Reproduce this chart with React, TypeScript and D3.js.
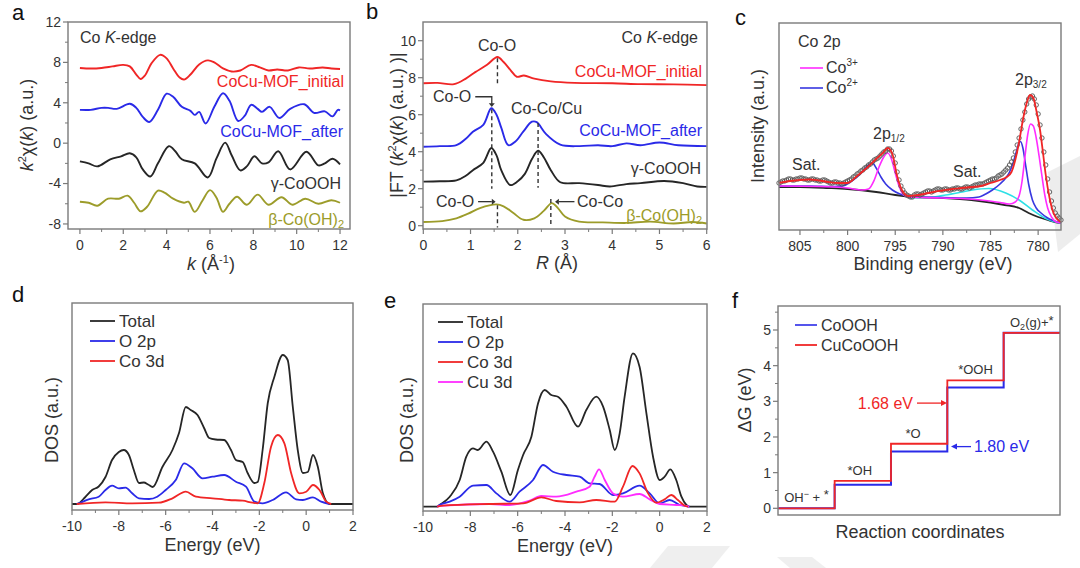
import React from 'react';
import * as d3 from 'd3';

type P = [number, number];

const FONT = "'Liberation Sans', Arial, Helvetica, sans-serif";
const TXT = '#333';
const FRAME = '#7a7a7a';
const RED = '#f02626';
const BLUE = '#2a2ae8';
const OLIVE = '#9c9c2a';
const BLK = '#262626';
const MAG = '#ff2cff';
const CYAN = '#2ee0e6';

// ---------------- panel a : k-space EXAFS ----------------
const aTicksX = [0, 2, 4, 6, 8, 10, 12];
const aTicksY = [-8, -4, 0, 4, 8, 12];
const aInitial: P[] = [[0,7.45],[0.5,7.4],[1,7.45],[1.5,7.6],[2,7.75],[2.3,7.6],[2.6,6.8],[2.8,6.35],[3.0,6.7],[3.3,7.9],[3.7,8.75],[4.0,8.4],[4.3,7.4],[4.6,6.5],[4.8,6.3],[5.1,6.8],[5.5,7.8],[5.9,8.2],[6.2,8.0],[6.6,7.4],[7.0,7.1],[7.4,7.2],[7.9,7.75],[8.3,7.5],[8.7,7.2],[9.1,7.3],[9.6,7.2],[10.1,7.5],[10.6,7.4],[11.2,7.5],[11.6,7.4],[12,7.35]];
const aAfter: P[] = [[0,3.3],[0.5,3.3],[1,3.5],[1.3,3.5],[1.7,3.4],[2.3,3.9],[2.6,3.5],[2.9,2.6],[3.2,2.1],[3.6,3.3],[4.0,4.9],[4.3,4.6],[4.7,3.6],[5.1,3.2],[5.3,2.8],[5.5,3.1],[5.8,1.95],[6.2,3.6],[6.6,4.95],[6.9,4.2],[7.3,2.2],[7.6,2.7],[7.9,3.8],[8.2,3.4],[8.4,3.1],[8.75,3.6],[9.2,2.5],[9.7,3.4],[10.35,3.85],[10.8,3.0],[11.3,3.15],[11.65,2.65],[11.9,3.3],[12,3.25]];
const aGamma: P[] = [[0,-1.8],[0.4,-2.0],[0.8,-2.3],[1.4,-1.6],[1.9,-1.3],[2.3,-1.0],[2.6,-1.4],[2.9,-2.6],[3.25,-3.3],[3.6,-2.0],[4.1,-0.3],[4.4,-0.8],[4.7,-1.6],[5.3,-2.0],[5.9,-3.4],[6.3,-1.5],[6.7,0.05],[7.0,-1.2],[7.4,-2.7],[7.7,-2.3],[8.05,-1.3],[8.4,-2.0],[8.7,-1.9],[9.15,-0.8],[9.7,-2.6],[10.45,-0.85],[11.0,-2.2],[11.3,-2.0],[11.65,-1.55],[12,-2.1]];
const aBeta: P[] = [[0,-5.8],[0.4,-5.9],[0.8,-6.2],[1.3,-5.5],[1.8,-5.5],[2.2,-5.2],[2.5,-5.9],[2.8,-6.75],[3.1,-6.3],[3.6,-4.7],[3.9,-4.9],[4.3,-5.5],[4.8,-5.9],[5.0,-5.8],[5.3,-6.8],[5.65,-5.7],[6.0,-4.65],[6.3,-5.4],[6.6,-6.8],[6.9,-6.0],[7.25,-5.3],[7.7,-6.1],[8.2,-5.1],[8.7,-6.1],[9.3,-5.35],[9.8,-6.1],[10.4,-5.5],[11.0,-6.0],[11.6,-5.65],[12,-5.9]];

// ---------------- panel b : R-space ----------------
const bTicksX = [0, 1, 2, 3, 4, 5, 6];
const bTicksY = [0, 2, 4, 6, 8, 10];
const bInitial: P[] = [[0,7.7],[0.3,7.72],[0.65,7.65],[0.9,7.95],[1.1,8.3],[1.35,8.7],[1.57,9.12],[1.7,8.85],[1.85,8.4],[1.98,8.05],[2.13,8.12],[2.35,7.95],[2.7,7.8],[3.2,7.72],[4,7.7],[4.6,7.65],[5.3,7.64],[6,7.6]];
const bAfter: P[] = [[0,4.27],[0.35,4.3],[0.7,4.35],[0.9,4.7],[1.05,5.08],[1.27,5.45],[1.44,6.35],[1.55,6.0],[1.65,5.3],[1.8,4.35],[1.95,4.55],[2.12,5.1],[2.3,5.62],[2.4,5.6],[2.6,4.95],[2.9,4.38],[3.3,4.3],[3.7,4.35],[4.0,4.3],[4.3,4.45],[4.6,4.35],[5.0,4.5],[5.4,4.35],[6,4.3]];
const bGamma: P[] = [[0,2.38],[0.35,2.4],[0.7,2.45],[0.9,2.7],[1.05,3.0],[1.27,3.4],[1.44,4.2],[1.55,3.8],[1.65,3.0],[1.84,2.2],[2.0,2.4],[2.15,2.8],[2.3,3.6],[2.43,4.05],[2.55,3.7],[2.7,3.0],[2.9,2.35],[3.3,2.3],[3.7,2.2],[3.95,2.12],[4.3,2.25],[4.6,2.3],[5.1,2.42],[5.5,2.3],[5.8,2.12],[6,2.1]];
const bBeta: P[] = [[0,0.2],[0.4,0.25],[0.7,0.4],[0.95,0.65],[1.2,0.95],[1.55,1.15],[1.7,1.05],[1.9,0.7],[2.12,0.32],[2.35,0.4],[2.55,0.8],[2.72,1.22],[2.85,0.95],[3.0,0.5],[3.3,0.22],[3.8,0.18],[4.3,0.15],[4.8,0.22],[5.3,0.12],[5.7,0.2],[6,0.12]];
const bDashes: [number, number, number][] = [[1.57,9.05,7.65],[1.45,6.3,2.0],[2.43,5.55,2.05],[1.57,1.1,-0.1],[2.70,1.45,-0.05]];

// ---------------- panel c : XPS Co 2p ----------------
const cTicksX = [805, 800, 795, 790, 785, 780];
const cMinorX = [802.5, 797.5, 792.5, 787.5, 782.5];
const cData: P[] = [[807.2,47],[807.0,48],[806.8,49],[806.6,49],[806.4,50],[806.2,51],[806.0,51],[805.8,50],[805.6,50],[805.4,51],[805.2,51],[805.0,52],[804.8,52],[804.6,51],[804.4,51],[804.2,50],[804.0,50],[803.8,51],[803.6,51],[803.4,50],[803.2,50],[803.0,49],[802.8,49],[802.6,50],[802.4,50],[802.2,49],[802.0,48],[801.8,47],[801.6,47],[801.4,48],[801.2,48],[801.0,47],[800.8,47],[800.6,46],[800.4,47],[800.2,48],[800.0,49],[799.8,50],[799.6,51],[799.4,53],[799.2,54],[799.0,56],[798.8,57],[798.6,59],[798.4,60],[798.2,62],[798.0,63],[797.8,65],[797.6,66],[797.4,68],[797.2,70],[797.0,71],[796.8,72],[796.6,74],[796.4,76],[796.2,78],[796.0,79],[795.8,81],[795.6,81],[795.4,79],[795.2,74],[795.0,67],[794.8,58],[794.6,50],[794.4,44],[794.2,40],[794.0,37],[793.8,35],[793.6,34],[793.4,33],[793.2,33],[793.0,35],[792.8,36],[792.6,36],[792.4,35],[792.2,36],[792.0,37],[791.8,38],[791.6,39],[791.4,39],[791.2,38],[791.0,39],[790.8,40],[790.6,41],[790.4,41],[790.2,40],[790.0,40],[789.8,41],[789.6,41],[789.4,40],[789.2,40],[789.0,41],[788.8,41],[788.6,42],[788.4,42],[788.2,41],[788.0,41],[787.8,42],[787.6,43],[787.4,43],[787.2,42],[787.0,43],[786.8,44],[786.6,45],[786.4,45],[786.2,46],[786.0,46],[785.8,46],[785.6,47],[785.4,48],[785.2,49],[785.0,50],[784.8,51],[784.6,51],[784.4,52],[784.2,54],[784.0,55],[783.8,56],[783.6,58],[783.4,60],[783.2,62],[783.0,65],[782.8,68],[782.6,72],[782.4,78],[782.2,85],[782.0,92],[781.8,101],[781.6,110],[781.4,118],[781.2,126],[781.0,131],[780.8,133],[780.6,134],[780.4,131],[780.2,125],[780.0,116],[779.8,105],[779.6,92],[779.4,78],[779.2,65],[779.0,51],[778.8,38],[778.6,29],[778.4,22],[778.2,17],[778.0,14],[777.8,12],[777.6,10]];
const cEnvelope: P[] = [[807.2,47],[806,49],[805,50],[804,50.5],[803,49.5],[802,48],[801,47],[800,47],[799,54],[798,62],[797,71],[796.3,77],[795.8,82],[795.3,76],[794.8,54],[794.3,40],[793.6,34],[793,34.5],[792,36],[791,38],[790,39.5],[789,41],[788,42],[787,43],[786,44],[785,47],[784,50],[783.3,53],[782.8,58],[782.4,70],[782,88],[781.6,110],[781.2,127],[780.85,135],[780.5,132],[780.2,120],[779.8,100],[779.5,78],[779.2,55],[778.8,32],[778.5,20],[778.1,12],[777.6,8]];
const cBackground: P[] = [[807.2,43],[805,43],[802,42],[800,41],[797,38],[795,35],[793,33],[790,32],[787,30],[785,27.5],[783.5,25],[782,22],[781,17],[780,13],[779,10],[778,7.5],[777.6,7]];
const cCo3: P[] = [[807.2,44],[803,43.5],[800,42],[798.5,40],[797.8,41],[797.2,50],[796.7,63],[796.2,73],[795.8,77],[795.4,71],[795.0,57],[794.6,44],[794.1,35],[793.5,33],[790,32],[786,30],[784,27.5],[783,26],[782.4,28],[782.0,34],[781.7,48],[781.4,72],[781.1,95],[780.8,106],[780.5,104],[780.2,92],[779.9,74],[779.6,54],[779.3,35],[779.0,22],[778.6,13],[778.1,8],[777.6,7]];
const cCo2: P[] = [[807.2,44],[804,44],[801.5,43.5],[800.5,44],[799.7,48],[799,53],[798.3,60],[797.8,65],[797.4,67],[797.0,62],[796.5,53],[796,46],[795.3,40],[794.5,36],[793.8,34],[793,33],[790,32.5],[787.5,32],[786.2,33],[785.5,36],[784.8,40],[784,46],[783.4,52],[783,58],[782.6,68],[782.3,78],[782,87],[781.85,88.5],[781.6,82],[781.3,64],[781,46],[780.6,30],[780.2,22],[779.7,17],[779,12],[778.3,9],[777.6,7]];
const cSat: P[] = [[793.5,32],[791,33],[789.7,35],[788,38],[786.9,40],[785.2,41.5],[783.4,37],[782,30],[780.6,20],[779.2,11.5],[777.8,7.3],[777.6,7]];

// ---------------- panel d : DOS CoOOH ----------------
const dosTicks = [-10, -8, -6, -4, -2, 0, 2];
const dosMinor = [-9, -7, -5, -3, -1, 1];
const dTotal: P[] = [[-10,0],[-9.79,0],[-9.43,7],[-9.14,14],[-8.86,17.5],[-8.57,27],[-8.29,44],[-8.0,52],[-7.79,54],[-7.57,49],[-7.36,34],[-7.14,21],[-6.93,21.5],[-6.75,19.5],[-6.55,17],[-6.14,37],[-5.71,54],[-5.43,71],[-5.14,97],[-4.93,94],[-4.64,89],[-4.36,76],[-4.14,66],[-3.86,64.5],[-3.5,64],[-3.21,54],[-3.0,44],[-2.71,42],[-2.5,31],[-2.21,21],[-2.07,22],[-1.86,54],[-1.64,101],[-1.36,127],[-1.0,149],[-0.79,144],[-0.57,97],[-0.36,54],[-0.14,31],[0.07,32],[0.29,49],[0.5,37],[0.71,11],[1.0,0],[2,0]];
const dO2p: P[] = [[-9.8,0],[-9.71,0.7],[-9.29,4.7],[-8.86,7.3],[-8.57,14],[-8.29,18.3],[-8.0,15.7],[-7.71,16.3],[-7.43,10.7],[-7.14,5.7],[-6.71,5],[-6.36,7.3],[-6.0,14],[-5.57,24],[-5.21,40.7],[-4.86,35.7],[-4.43,25.7],[-4.0,27.3],[-3.5,29],[-3.0,22.3],[-2.57,17.3],[-2.21,2.3],[-1.86,0.7],[-1.43,4],[-0.86,11.7],[-0.43,4.7],[-0.14,4],[0.29,6.7],[0.64,2.3],[1.0,0]];
const dCo3d: P[] = [[-9.8,0],[-8.57,1.7],[-7.43,0.7],[-6.29,1.3],[-5.71,5.7],[-5.14,12.3],[-4.71,7.3],[-4.0,5.7],[-3.29,4],[-2.71,3.3],[-2.29,1.3],[-2.07,0.7],[-1.79,20.7],[-1.5,57.3],[-1.21,69],[-0.93,60.7],[-0.64,30.7],[-0.29,10.7],[0,12.3],[0.29,19],[0.57,14],[0.86,2.3],[1.07,0]];

// ---------------- panel e : DOS CuCoOOH ----------------
const eTotal: P[] = [[-10,0],[-9.4,0],[-9.3,1.7],[-8.87,10],[-8.45,26.7],[-8.17,50],[-7.89,58.3],[-7.68,56.7],[-7.32,65],[-7.04,55],[-6.69,35],[-6.31,11.7],[-5.99,36.7],[-5.77,51.7],[-5.42,70],[-5.14,103.3],[-4.86,116.7],[-4.58,111.7],[-4.3,110],[-3.94,100],[-3.45,80],[-3.1,96.7],[-2.68,110],[-2.39,100],[-2.11,76.7],[-1.9,56.7],[-1.69,73.3],[-1.48,110],[-1.13,153.3],[-0.85,140],[-0.56,93.3],[-0.28,50],[0,26.7],[0.21,30],[0.45,37.3],[0.7,26.7],[0.92,10],[1.13,1.7],[1.25,0],[2,0]];
const eO2p: P[] = [[-9.4,0],[-9.3,1.7],[-8.87,5],[-8.45,10],[-7.89,21],[-7.32,21.7],[-6.9,13.3],[-6.34,5],[-5.92,15],[-5.35,26.7],[-4.93,41.7],[-4.51,35],[-3.94,31.7],[-3.38,30],[-2.96,23.3],[-2.54,22.7],[-1.97,11.7],[-1.55,13.3],[-0.85,21],[-0.42,13.3],[0,3.3],[0.42,6.7],[0.85,1.7],[1.13,0.7],[1.25,0]];
const eCo3d: P[] = [[-9.4,0],[-9.15,1],[-7.18,2.7],[-5.77,3.3],[-5.0,9.3],[-4.37,5.7],[-3.38,4.3],[-2.68,6.7],[-1.9,5],[-1.55,20],[-1.15,40.7],[-0.85,33.3],[-0.49,13.3],[-0.14,4],[0.21,7.3],[0.49,11.7],[0.77,6.7],[1.06,1],[1.2,0]];
const eCu3d: P[] = [[-9.4,0],[-9.15,1],[-7.18,2.7],[-6.34,1.7],[-5.49,6],[-5.0,10.7],[-4.37,10],[-3.52,15],[-2.96,20],[-2.75,30],[-2.56,37.3],[-2.32,26.7],[-1.97,13.3],[-1.55,10],[-0.85,12.7],[-0.42,7.3],[0,2.7],[0.7,1.7],[1.13,0.7],[1.25,0]];

// ---------------- panel f : free energy ----------------
const fTicksY = [0, 1, 2, 3, 4, 5];
const fMinorY = [0.5, 1.5, 2.5, 3.5, 4.5, 5.5];
const fSteps = ['OH⁻', '*OH', '*O', '*OOH', 'O₂(g)+*'];
const fCoOOH = [0, 0.66, 1.59, 3.39, 4.92];
const fCuCoOOH = [0, 0.77, 1.81, 3.59, 4.92];

function XAxis({ s, y, majors, minors, labels, fs = 14, off = 21 }: any) {
  return (
    <g>
      {majors.map((v: number) => <line key={'M' + v} x1={s(v)} x2={s(v)} y1={y} y2={y + 5} stroke={FRAME} strokeWidth={1.2} />)}
      {minors.map((v: number) => <line key={'m' + v} x1={s(v)} x2={s(v)} y1={y} y2={y + 3} stroke={FRAME} strokeWidth={1} />)}
      {labels && majors.map((v: number, i: number) => (
        <text key={'t' + v} x={s(v)} y={y + off} textAnchor="middle" fontSize={fs} fill={TXT}>{labels[i]}</text>
      ))}
    </g>
  );
}

function YAxis({ s, x, majors, minors, fs = 14 }: any) {
  return (
    <g>
      {majors.map((v: number) => <line key={'M' + v} x1={x} x2={x - 5} y1={s(v)} y2={s(v)} stroke={FRAME} strokeWidth={1.2} />)}
      {minors.map((v: number) => <line key={'m' + v} x1={x} x2={x - 3} y1={s(v)} y2={s(v)} stroke={FRAME} strokeWidth={1} />)}
      {majors.map((v: number) => (
        <text key={'t' + v} x={x - 7} y={s(v)} dy="0.35em" textAnchor="end" fontSize={fs} fill={TXT}>{v}</text>
      ))}
    </g>
  );
}

function Frame({ x0, y0, x1, y1 }: any) {
  return <rect x={x0} y={y0} width={x1 - x0} height={y1 - y0} fill="none" stroke={FRAME} strokeWidth={1.4} />;
}

function Letter({ x, y, ch }: any) {
  return <text x={x} y={y} fontSize={22} fill="#111">{ch}</text>;
}

function YTitle({ x, y, children }: any) {
  return <text transform={`translate(${x},${y}) rotate(-90)`} textAnchor="middle" fontSize={18} fill={TXT}>{children}</text>;
}

const cat = (xs: any, ys: any) => d3.line<P>().x(d => xs(d[0])).y(d => ys(d[1])).curve(d3.curveCatmullRom.alpha(0.5));
const mono = (xs: any, ys: any) => d3.line<P>().x(d => xs(d[0])).y(d => ys(d[1])).curve(d3.curveMonotoneX);

function PanelA() {
  const x = d3.scaleLinear([-0.55, 12.46], [68, 350]);
  const y = d3.scaleLinear([-8.5, 12], [229, 22]);
  const L = cat(x, y);
  const sw = 1.9;
  return (
    <g>
      <Letter x={12} y={20} ch="a" />
      <path d={L(aInitial)!} fill="none" stroke={RED} strokeWidth={sw} />
      <path d={L(aAfter)!} fill="none" stroke={BLUE} strokeWidth={sw} />
      <path d={L(aGamma)!} fill="none" stroke={BLK} strokeWidth={sw} />
      <path d={L(aBeta)!} fill="none" stroke={OLIVE} strokeWidth={sw} />
      <Frame x0={68} y0={22} x1={350} y1={229} />
      <XAxis s={x} y={229} majors={aTicksX} minors={[1, 3, 5, 7, 9, 11]} labels={aTicksX} />
      <YAxis s={y} x={68} majors={aTicksY} minors={[-6, -2, 2, 6, 10]} />
      <text x={80} y={43} fontSize={16} fill={TXT}>Co <tspan fontStyle="italic">K</tspan>-edge</text>
      <text x={344} y={87} textAnchor="end" fontSize={16} fill={RED}>CoCu-MOF_initial</text>
      <text x={343} y={137} textAnchor="end" fontSize={16} fill={BLUE}>CoCu-MOF_after</text>
      <text x={341} y={189} textAnchor="end" fontSize={16} fill={TXT}>γ-CoOOH</text>
      <text x={344} y={225} textAnchor="end" fontSize={16} fill={OLIVE}>β-Co(OH)<tspan fontSize={11} dy={3}>2</tspan></text>
      <text x={211} y={270} textAnchor="middle" fontSize={18} fill={TXT}><tspan fontStyle="italic">k</tspan> (Å<tspan fontSize={11} dy={-7}>-1</tspan><tspan dy={7}>)</tspan></text>
      <YTitle x={33} y={125}><tspan fontStyle="italic">k</tspan><tspan fontSize={11} dy={-7}>2</tspan><tspan dy={7}>χ(</tspan><tspan fontStyle="italic">k</tspan>) (a.u.)</YTitle>
    </g>
  );
}

function PanelB() {
  const x = d3.scaleLinear([0, 6], [423.3, 706.7]);
  const y = d3.scaleLinear([0, 10], [225.7, 40.7]);
  const L = cat(x, y);
  const sw = 1.9;
  const ax = x(1.45), ay = y(6.97);
  return (
    <g>
      <Letter x={366} y={19} ch="b" />
      <path d={L(bInitial)!} fill="none" stroke={RED} strokeWidth={sw} />
      <path d={L(bAfter)!} fill="none" stroke={BLUE} strokeWidth={sw} />
      <path d={L(bGamma)!} fill="none" stroke={BLK} strokeWidth={sw} />
      <path d={L(bBeta)!} fill="none" stroke={OLIVE} strokeWidth={sw} />
      {bDashes.map((d, i) => (
        <line key={i} x1={x(d[0])} x2={x(d[0])} y1={y(d[1])} y2={y(d[2])} stroke="#333" strokeWidth={1.4} strokeDasharray="4,3" />
      ))}
      <Frame x0={423} y0={22} x1={707} y1={229} />
      <XAxis s={x} y={229} majors={bTicksX} minors={[0.5, 1.5, 2.5, 3.5, 4.5, 5.5]} labels={bTicksX} />
      <YAxis s={y} x={423} majors={bTicksY} minors={[1, 3, 5, 7, 9]} />
      <text x={698} y={43} textAnchor="end" fontSize={16} fill={TXT}>Co <tspan fontStyle="italic">K</tspan>-edge</text>
      <text x={497} y={51} textAnchor="middle" fontSize={16} fill={TXT}>Co-O</text>
      <text x={702} y={77} textAnchor="end" fontSize={16} fill={RED}>CoCu-MOF_initial</text>
      <text x={433} y={102} fontSize={16} fill={TXT}>Co-O</text>
      <path d={`M${x(1.1)},${ay} H${ax} V${y(6.55)}`} fill="none" stroke="#333" strokeWidth={1.3} />
      <polygon points={`${ax - 3},${y(6.62)} ${ax + 3},${y(6.62)} ${ax},${y(6.42)}`} fill="#333" />
      <text x={511} y={114} fontSize={16} fill={TXT}>Co-Co/Cu</text>
      <text x={702} y={136} textAnchor="end" fontSize={16} fill={BLUE}>CoCu-MOF_after</text>
      <text x={701} y={174} textAnchor="end" fontSize={16} fill={TXT}>γ-CoOOH</text>
      <text x={436} y={207} fontSize={16} fill={TXT}>Co-O</text>
      <line x1={x(1.16)} x2={x(1.45)} y1={y(1.3)} y2={y(1.3)} stroke="#333" strokeWidth={1.3} />
      <polygon points={`${x(1.45)},${y(1.3) - 3} ${x(1.45)},${y(1.3) + 3} ${x(1.53)},${y(1.3)}`} fill="#333" />
      <line x1={x(2.87)} x2={x(3.2)} y1={y(1.3)} y2={y(1.3)} stroke="#333" strokeWidth={1.3} />
      <polygon points={`${x(2.87)},${y(1.3) - 3} ${x(2.87)},${y(1.3) + 3} ${x(2.79)},${y(1.3)}`} fill="#333" />
      <text x={577} y={207} fontSize={16} fill={TXT}>Co-Co</text>
      <text x={702} y={221} textAnchor="end" fontSize={16} fill={OLIVE}>β-Co(OH)<tspan fontSize={11} dy={3}>2</tspan></text>
      <text x={557} y={269} textAnchor="middle" fontSize={18} fill={TXT}><tspan fontStyle="italic">R</tspan> (Å)</text>
      <YTitle x={403} y={125}>|FT (<tspan fontStyle="italic">k</tspan><tspan fontSize={11} dy={-7}>2</tspan><tspan dy={7}>χ(</tspan><tspan fontStyle="italic">k</tspan>) (a.u.) )|</YTitle>
    </g>
  );
}

function PanelC() {
  const x = d3.scaleLinear([807.2, 777.6], [779, 1061]);
  const y = d3.scaleLinear([0, 207], [230, 23]);
  const L = mono(x, y);
  return (
    <g>
      <Letter x={735} y={25} ch="c" />
      <path d={L(cBackground)!} fill="none" stroke={BLK} strokeWidth={1.8} />
      <path d={L(cSat)!} fill="none" stroke={CYAN} strokeWidth={1.6} />
      <path d={L(cCo2)!} fill="none" stroke="#3838e0" strokeWidth={1.6} />
      <path d={L(cCo3)!} fill="none" stroke={MAG} strokeWidth={1.6} />
      {cData.map((d, i) => <circle key={i} cx={x(d[0])} cy={y(d[1])} r={2.2} fill="none" stroke="#555" strokeWidth={0.9} />)}
      <path d={L(cEnvelope)!} fill="none" stroke={RED} strokeWidth={1.8} />
      <Frame x0={779} y0={23} x1={1061} y1={230} />
      <XAxis s={x} y={230} majors={cTicksX} minors={cMinorX} labels={cTicksX} />
      <text x={798} y={47} fontSize={16} fill={TXT}>Co 2p</text>
      <line x1={800} x2={823} y1={68} y2={68} stroke={MAG} strokeWidth={1.6} />
      <text x={826} y={73} fontSize={16} fill={TXT}>Co<tspan fontSize={10} dy={-7}>3+</tspan></text>
      <line x1={800} x2={823} y1={88} y2={88} stroke="#3838e0" strokeWidth={1.6} />
      <text x={826} y={93} fontSize={16} fill={TXT}>Co<tspan fontSize={10} dy={-7}>2+</tspan></text>
      <text x={1015} y={85} fontSize={16} fill={TXT}>2p<tspan fontSize={10} dy={3}>3/2</tspan></text>
      <text x={873} y={139} fontSize={16} fill={TXT}>2p<tspan fontSize={10} dy={3}>1/2</tspan></text>
      <text x={792} y={170} fontSize={16} fill={TXT}>Sat.</text>
      <text x={953} y={177} fontSize={16} fill={TXT}>Sat.</text>
      <text x={933} y={270} textAnchor="middle" fontSize={18} fill={TXT}>Binding energy (eV)</text>
      <YTitle x={764} y={126}>Intensity (a.u.)</YTitle>
    </g>
  );
}

function PanelDOS({ x0, x1, y0, y1, base, letter, lx, ly, series, legend, tx, ty }: any) {
  const x = d3.scaleLinear([-10, 2], [x0, x1]);
  const y = d3.scaleLinear([0, 100], [base, base - 100]);
  const L = mono(x, y);
  return (
    <g>
      <Letter x={lx} y={ly} ch={letter} />
      {series.map((s: any, i: number) => <path key={i} d={L(s.data)!} fill="none" stroke={s.color} strokeWidth={1.8} />)}
      <Frame x0={x0} y0={y0} x1={x1} y1={y1} />
      <XAxis s={x} y={y1} majors={dosTicks} minors={dosMinor} labels={dosTicks} off={21} />
      {legend.map((s: any, i: number) => (
        <g key={i}>
          <line x1={x0 + legend.dx} x2={x0 + legend.dx + 25} y1={y0 + 18 + i * 20} y2={y0 + 18 + i * 20} stroke={s.color} strokeWidth={1.8} />
          <text x={x0 + legend.dx + 29} y={y0 + 18 + i * 20} dy="0.35em" fontSize={17} fill={TXT}>{s.name}</text>
        </g>
      ))}
      <text x={(x0 + x1) / 2} y={y1 + 41} textAnchor="middle" fontSize={18} fill={TXT}>Energy (eV)</text>
      <YTitle x={tx} y={ty}>DOS (a.u.)</YTitle>
    </g>
  );
}

function PanelF() {
  const x = d3.scaleLinear([0, 5], [778.3, 1060]);
  const y = d3.scaleLinear([0, 5], [508.3, 330]);
  const step = d3.line<P>().x(d => x(d[0])).y(d => y(d[1])).curve(d3.curveStepAfter);
  const pts = (lv: number[]): P[] => [...lv.map((v, i) => [i, v] as P), [5, lv[lv.length - 1]]];
  return (
    <g>
      <Letter x={732} y={308} ch="f" />
      <path d={step(pts(fCoOOH))!} fill="none" stroke={BLUE} strokeWidth={2} />
      <path d={step(pts(fCuCoOOH))!} fill="none" stroke={RED} strokeWidth={1.8} />
      <Frame x0={778} y0={306} x1={1060} y1={515} />
      <YAxis s={y} x={778} majors={fTicksY} minors={fMinorY} />
      <line x1={795} x2={817} y1={325} y2={325} stroke={BLUE} strokeWidth={1.6} />
      <text x={821} y={325} dy="0.35em" fontSize={16} fill={TXT}>CoOOH</text>
      <line x1={795} x2={817} y1={345} y2={345} stroke={RED} strokeWidth={1.8} />
      <text x={821} y={345} dy="0.35em" fontSize={16} fill={TXT}>CuCoOOH</text>
      {fSteps.map((s, i) => (
        <text key={i} x={x(i + 0.5) + (i === 2 ? -6 : i === 1 ? -3 : 0)} y={y(fCuCoOOH[i]) - 6} textAnchor="middle" fontSize={13} fill={TXT}>
          {i === 0 ? <>OH<tspan fontSize={9} dy={-5}>−</tspan><tspan dy={5}> + </tspan><tspan dy={-3}>*</tspan></> : s === 'O₂(g)+*' ? <>O<tspan fontSize={9} dy={3}>2</tspan><tspan dy={-3}>(g)+</tspan><tspan dy={-2}>*</tspan></> : s}
        </text>
      ))}
      <text x={913} y={y(2.95)} dy="0.35em" textAnchor="end" fontSize={16} fill={RED}>1.68 eV</text>
      <line x1={917} x2={941} y1={y(2.95)} y2={y(2.95)} stroke={RED} strokeWidth={1.3} />
      <polygon points={`${941},${y(2.95) - 3} ${941},${y(2.95) + 3} ${947},${y(2.95)}`} fill={RED} />
      <line x1={957} x2={971} y1={y(1.73)} y2={y(1.73)} stroke={BLUE} strokeWidth={1.3} />
      <polygon points={`${957},${y(1.73) - 3} ${957},${y(1.73) + 3} ${951},${y(1.73)}`} fill={BLUE} />
      <text x={974} y={y(1.73)} dy="0.35em" fontSize={16} fill={BLUE}>1.80 eV</text>
      <text x={920} y={538} textAnchor="middle" fontSize={18} fill={TXT}>Reaction coordinates</text>
      <YTitle x={751} y={400}>ΔG (eV)</YTitle>
    </g>
  );
}

export default function App() {
  const dSeries = [
    { name: 'Total', color: BLK, data: dTotal },
    { name: 'O 2p', color: BLUE, data: dO2p },
    { name: 'Co 3d', color: RED, data: dCo3d },
  ];
  const eSeries = [
    { name: 'Total', color: BLK, data: eTotal },
    { name: 'O 2p', color: BLUE, data: eO2p },
    { name: 'Cu 3d', color: MAG, data: eCu3d },
    { name: 'Co 3d', color: RED, data: eCo3d },
  ];
  const dLeg: any = dSeries.slice(); dLeg.dx = 18;
  const eLeg: any = [eSeries[0], eSeries[1], eSeries[3], eSeries[2]]; eLeg.dx = 15;
  return (
    <div style={{ position: 'absolute', left: 0, top: 0 }}>
      <svg width={1080} height={568} fontFamily={FONT} style={{ display: 'block', background: '#fff' }}>
        {/* faint grey watermark shapes present in the source image */}
        <polygon points="1048,172 1080,156 1080,234 1058,252" fill="#ededed" />
        <polygon points="650,568 668,546 730,546 712,568" fill="#efefef" />
        <polygon points="777,557 812,557 826,568 790,568" fill="#efefef" />
        <PanelA />
        <PanelB />
        <PanelC />
        <PanelDOS x0={72} x1={353} y0={303} y1={510} base={504} letter="d" lx={12} ly={302} series={dSeries} legend={dLeg} tx={58} ty={420} />
        <PanelDOS x0={423} x1={707} y0={304} y1={511} base={506.7} letter="e" lx={384} ly={308} series={eSeries} legend={eLeg} tx={413} ty={420} />
        <PanelF />
      </svg>
    </div>
  );
}
